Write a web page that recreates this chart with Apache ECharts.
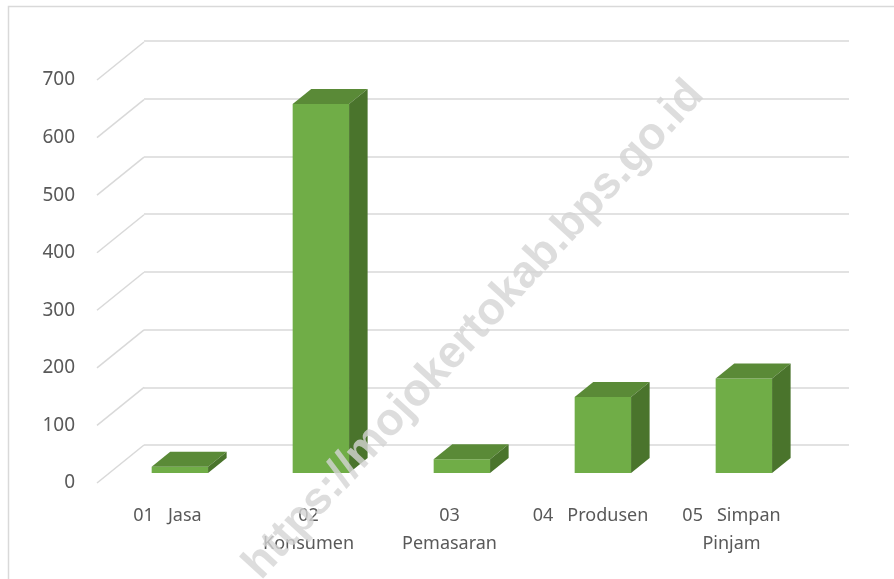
<!DOCTYPE html>
<html>
<head>
<meta charset="utf-8">
<script src="https://cdn.jsdelivr.net/npm/echarts@6/dist/echarts.min.js"></script>
<style>
  html, body { margin: 0; padding: 0; background: #fff; }
  #chart { width: 894px; height: 579px; }
</style>
</head>
<body>
<div id="chart"></div>
<script>
  // data
  const categories = ['01   Jasa', '02\nKonsumen', '03\nPemasaran', '04   Produsen', '05   Simpan\nPinjam']
  const values = [11, 641, 24, 132, 164]
  const tickValues = [0, 100, 200, 300, 400, 500, 600, 700]

  // 3d look: shift from front plane to back wall
  const DX = 47
  const DY = 38
  const F1 = 10 / 38 // bar front depth
  const F2 = 25 / 38 // bar back depth

  const chart = echarts.init(document.getElementById('chart'))

  function renderBar (params, api) {
    const i = api.value(0)
    const p0 = api.coord([i, 0])
    const p1 = api.coord([i, api.value(1)])
    const w = api.size([1, 0])[0] * 0.4
    const x1 = p0[0] + F1 * DX - w / 2
    const x2 = x1 + w
    const yb = p0[1] - F1 * DY
    const yt = p1[1] - F1 * DY
    const ox = (F2 - F1) * DX
    const oy = (F2 - F1) * DY
    return {
      type: 'group',
      children: [
        {
          type: 'rect',
          shape: { x: x1, y: yt, width: w, height: yb - yt },
          style: { fill: '#70ad47' }
        },
        {
          type: 'polygon',
          shape: { points: [[x1, yt], [x1 + ox, yt - oy], [x2 + ox, yt - oy], [x2, yt]] },
          style: { fill: '#5a8a37' }
        },
        {
          type: 'polygon',
          shape: { points: [[x2, yt], [x2 + ox, yt - oy], [x2 + ox, yb - oy], [x2, yb]] },
          style: { fill: '#4a742c' }
        }
      ]
    }
  }

  function renderDiag (params, api) {
    const p = api.coord([0, api.value(0)])
    const x0 = params.coordSys.x
    return {
      type: 'line',
      shape: { x1: x0, y1: p[1], x2: x0 + DX, y2: p[1] - DY },
      style: { stroke: '#d9d9d9', lineWidth: 1.5 }
    }
  }

  const option = {
    backgroundColor: '#fff',
    animation: false,
    textStyle: { fontFamily: 'Noto Sans' },
    grid: [
      // back wall
      { left: 144, right: 45, top: 41, bottom: 134 },
      // front plane
      { left: 97, right: 92, top: 80, bottom: 96 }
    ],
    xAxis: [
      { type: 'category', gridIndex: 0, data: categories, show: false },
      {
        type: 'category',
        gridIndex: 1,
        data: categories,
        axisLine: { show: false },
        axisTick: { show: false },
        axisLabel: {
          interval: 0,
          margin: 19,
          fontSize: 18,
          lineHeight: 28,
          color: '#595959',
          fontFamily: 'Noto Sans'
        }
      }
    ],
    yAxis: [
      {
        type: 'value',
        gridIndex: 0,
        min: 0,
        max: 700,
        interval: 100,
        axisLabel: { show: false },
        axisLine: { show: false },
        axisTick: { show: false },
        splitLine: { lineStyle: { color: '#d9d9d9', width: 1.5 } }
      },
      {
        type: 'value',
        gridIndex: 1,
        min: 0,
        max: 700,
        interval: 100,
        axisLine: { show: false },
        axisTick: { show: false },
        splitLine: { show: false },
        axisLabel: { margin: 22, fontSize: 19, color: '#595959', fontFamily: 'Noto Sans' }
      }
    ],
    series: [
      {
        type: 'custom',
        xAxisIndex: 1,
        yAxisIndex: 1,
        renderItem: renderDiag,
        data: tickValues.map(v => [v]),
        encode: { y: 0 },
        silent: true
      },
      {
        type: 'custom',
        xAxisIndex: 1,
        yAxisIndex: 1,
        renderItem: renderBar,
        data: values.map((v, i) => [i, v]),
        encode: { x: 0, y: 1 }
      }
    ],
    graphic: [
      {
        type: 'rect',
        left: 6,
        top: 4,
        shape: { width: 900, height: 600 },
        style: { fill: 'none', stroke: '#d9d9d9', lineWidth: 1.5 },
        z: 0
      },
      {
        type: 'text',
        x: 474,
        y: 330,
        rotation: 47.5 * Math.PI / 180,
        style: {
          text: 'https://mojokertokab.bps.go.id',
          fontSize: 45,
          fontWeight: 'bold',
          fontFamily: 'Liberation Sans',
          fill: 'rgba(212,212,212,0.8)',
          align: 'center',
          verticalAlign: 'middle'
        },
        z: 100
      }
    ]
  }

  chart.setOption(option)
  window.addEventListener('resize', function () {
    chart.resize()
  })
</script>
</body>
</html>
